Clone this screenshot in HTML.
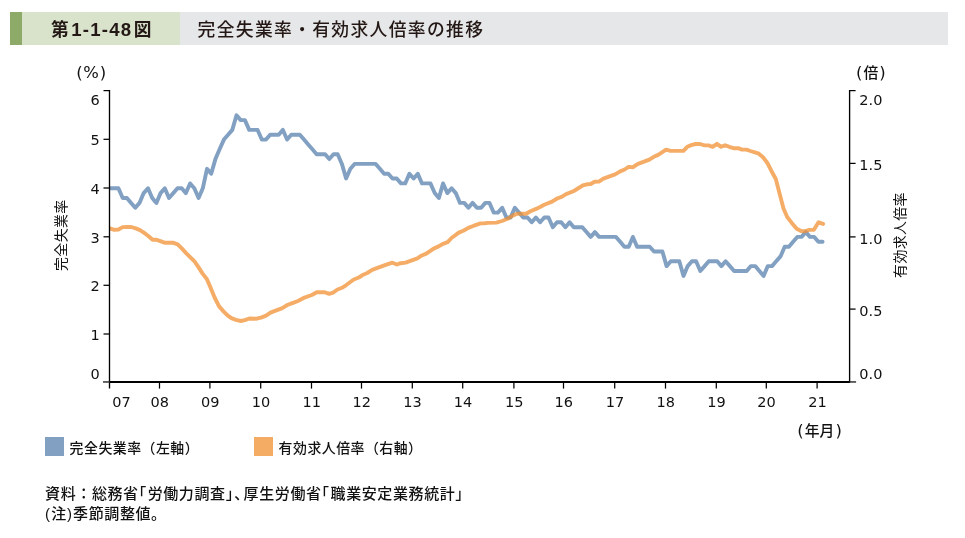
<!DOCTYPE html>
<html lang="ja">
<head>
<meta charset="utf-8">
<title>第1-1-48図 完全失業率・有効求人倍率の推移</title>
<style>
html,body{margin:0;padding:0;background:#fff;}
body{width:965px;height:538px;position:relative;overflow:hidden;color:#231815;
  font-family:"Liberation Sans","Noto Sans CJK JP",sans-serif;}
.hd{position:absolute;top:12px;height:33px;}
.hd1{left:10px;width:12px;background:#8daa68;}
.hd2{left:22px;width:158px;background:#d9e2cb;}
.hd3{left:180px;width:768px;background:#e6e7e8;}
.fig{position:absolute;left:51px;top:13px;height:33px;line-height:33px;white-space:nowrap;
  font-weight:700;font-size:17.7px;}
.fig .n{font-family:"Liberation Sans",sans-serif;font-size:18.6px;letter-spacing:1.2px;margin:0 1.6px 0 2.6px;position:relative;top:-0.4px;}
.ttl{position:absolute;left:197.6px;top:13.7px;height:33px;line-height:33px;white-space:nowrap;
  font-weight:500;font-size:17.8px;letter-spacing:1.33px;}
svg{position:absolute;left:0;top:0;}
.ax path{fill:none;stroke:#000;stroke-width:1.25;}
.ax path.ya{stroke:#000;stroke-width:1.35;}
.ax path.xa{stroke:#000;stroke-width:2;}
.ax path.g{stroke:#333;stroke-width:1.5;}
.num text{font-family:"DejaVu Sans","Liberation Sans",sans-serif;font-size:14.5px;fill:#111;}
.jp{font-family:"DejaVu Sans","Noto Sans CJK JP",sans-serif;font-size:14.8px;fill:#111;}
.jp .k{font-weight:500;}
.pp{font-size:16.5px;}
.vt{font-family:"Liberation Sans","Noto Sans CJK JP",sans-serif;font-size:13.9px;letter-spacing:0.4px;font-weight:400;fill:#111;}
.lg{position:absolute;top:437px;width:19px;height:19px;}
.lt{position:absolute;top:437.6px;height:21px;line-height:21px;font-size:13.9px;letter-spacing:0.5px;font-weight:500;white-space:nowrap;color:#111;}
.ft{position:absolute;left:45.1px;font-size:15px;letter-spacing:0.6px;font-weight:500;line-height:20px;white-space:nowrap;color:#111;}
.ft i{font-style:normal;letter-spacing:1.45px;}
.ft b{font-weight:500;letter-spacing:1.2px;}
</style>
</head>
<body>
<div class="hd hd1"></div><div class="hd hd2"></div><div class="hd hd3"></div>
<div class="fig">第<span class="n">1-1-48</span>図</div>
<div class="ttl">完全失業率・有効求人倍率の推移</div>
<svg width="965" height="538" viewBox="0 0 965 538">
<clipPath id="cp"><rect x="109.5" y="80" width="760" height="310"/></clipPath>
<g clip-path="url(#cp)">
<path d="M110.0,188.3 L114.2,188.3 L118.4,188.3 L122.7,198.0 L126.9,198.0 L131.1,202.9 L135.3,207.7 L139.5,202.9 L143.7,193.1 L148.0,188.3 L152.2,198.0 L156.4,202.9 L160.6,193.1 L164.8,188.3 L169.0,198.0 L173.3,193.1 L177.5,188.3 L181.7,188.3 L185.9,193.1 L190.1,183.4 L194.3,188.3 L198.6,198.0 L202.8,188.3 L207.0,168.8 L211.2,173.7 L215.4,159.1 L219.6,149.3 L223.9,139.6 L228.1,134.7 L232.3,129.9 L236.5,115.3 L240.7,120.1 L244.9,120.1 L249.2,129.9 L253.4,129.9 L257.6,129.9 L261.8,139.6 L266.0,139.6 L270.2,134.7 L274.5,134.7 L278.7,134.7 L282.9,129.9 L287.1,139.6 L291.3,134.7 L295.5,134.7 L299.8,134.7 L304.0,139.6 L308.2,144.5 L312.4,149.3 L316.6,154.2 L320.8,154.2 L325.1,154.2 L329.3,159.1 L333.5,154.2 L337.7,154.2 L341.9,163.9 L346.1,178.5 L350.4,168.8 L354.6,163.9 L358.8,163.9 L363.0,163.9 L367.2,163.9 L371.4,163.9 L375.7,163.9 L379.9,168.8 L384.1,173.7 L388.3,173.7 L392.5,178.5 L396.7,178.5 L401.0,183.4 L405.2,183.4 L409.4,173.7 L413.6,178.5 L417.8,173.7 L422.0,183.4 L426.3,183.4 L430.5,183.4 L434.7,193.1 L438.9,198.0 L443.1,183.4 L447.3,193.1 L451.6,188.3 L455.8,193.1 L460.0,202.9 L464.2,202.9 L468.4,207.7 L472.6,202.9 L476.9,207.7 L481.1,207.7 L485.3,202.9 L489.5,202.9 L493.7,212.6 L497.9,212.6 L502.2,207.7 L506.4,217.5 L510.6,217.5 L514.8,207.7 L519.0,212.6 L523.2,217.5 L527.5,217.5 L531.7,222.3 L535.9,217.5 L540.1,222.3 L544.3,217.5 L548.5,217.5 L552.8,227.2 L557.0,222.3 L561.2,222.3 L565.4,227.2 L569.6,222.3 L573.8,227.2 L578.1,227.2 L582.3,227.2 L586.5,232.1 L590.7,236.9 L594.9,232.1 L599.1,236.9 L603.4,236.9 L607.6,236.9 L611.8,236.9 L616.0,236.9 L620.2,241.8 L624.4,246.7 L628.7,246.7 L632.9,236.9 L637.1,246.7 L641.3,246.7 L645.5,246.7 L649.7,246.7 L654.0,251.5 L658.2,251.5 L662.4,251.5 L666.6,266.1 L670.8,261.3 L675.0,261.3 L679.3,261.3 L683.5,275.9 L687.7,266.1 L691.9,261.3 L696.1,261.3 L700.3,271.0 L704.6,266.1 L708.8,261.3 L713.0,261.3 L717.2,261.3 L721.4,266.1 L725.6,261.3 L729.9,266.1 L734.1,271.0 L738.3,271.0 L742.5,271.0 L746.7,271.0 L750.9,266.1 L755.2,266.1 L759.4,271.0 L763.6,275.9 L767.8,266.1 L772.0,266.1 L776.2,261.3 L780.5,256.4 L784.7,246.7 L788.9,246.7 L793.1,241.8 L797.3,236.9 L801.5,236.9 L805.8,232.1 L810.0,236.9 L814.2,236.9 L818.4,241.8 L822.6,241.8" fill="none" stroke="#81a0c2" stroke-width="3.9" stroke-linejoin="round" stroke-linecap="round"/>
<path d="M110.0,228.4 L114.2,229.9 L118.4,229.5 L122.7,227.1 L126.8,227.0 L131.3,227.0 L135.8,228.4 L140.0,230.1 L144.2,232.9 L148.3,236.0 L152.6,239.8 L156.7,239.8 L161.0,241.3 L165.1,242.8 L169.4,242.8 L173.5,242.8 L177.7,244.3 L182.0,248.6 L186.1,253.1 L190.4,257.3 L194.5,261.4 L198.8,267.6 L202.6,273.6 L206.8,279.0 L210.7,287.9 L214.6,297.5 L219.1,306.4 L223.5,311.4 L227.5,315.4 L231.4,318.2 L235.9,319.8 L240.9,321.0 L244.8,320.1 L249.3,318.5 L256.6,318.7 L261.0,317.6 L266.1,315.6 L270.5,312.6 L275.6,310.6 L282.3,308.1 L287.3,305.0 L292.4,303.1 L298.0,301.0 L304.5,297.6 L311.8,295.0 L316.8,292.2 L324.7,292.2 L329.1,293.9 L333.1,292.6 L337.5,289.5 L342.0,287.8 L345.9,285.3 L353.8,279.5 L358.8,277.5 L363.3,274.7 L367.2,273.0 L372.2,269.8 L379.5,267.2 L387.9,264.2 L392.4,262.7 L396.9,264.5 L400.6,263.2 L405.6,262.6 L411.8,260.4 L417.4,258.3 L421.3,255.7 L426.3,253.6 L433.6,248.6 L438.6,246.4 L443.1,243.8 L447.6,242.2 L451.5,238.0 L458.8,232.6 L463.8,230.5 L468.3,227.9 L473.9,225.7 L480.6,223.4 L484.5,223.2 L488.0,222.9 L496.4,222.6 L502.0,221.0 L507.6,218.8 L513.2,215.4 L517.1,213.7 L526.0,213.7 L530.5,211.2 L536.1,208.9 L540.5,206.8 L544.2,204.8 L552.1,201.6 L557.1,198.5 L561.6,196.9 L566.1,194.1 L573.3,191.3 L577.8,188.5 L582.9,185.4 L586.8,184.3 L590.7,184.0 L594.6,181.8 L598.9,181.6 L603.4,178.7 L615.1,174.4 L620.2,171.4 L624.7,169.5 L628.6,166.9 L633.1,167.2 L637.5,164.1 L649.3,159.6 L653.8,156.8 L658.2,154.9 L666.1,149.6 L670.5,150.9 L683.4,150.9 L687.3,146.8 L691.2,145.1 L695.5,144.0 L700.1,144.0 L704.5,145.4 L708.5,145.4 L712.7,146.8 L716.9,143.8 L721.1,146.8 L725.2,145.2 L729.2,146.8 L733.6,148.2 L738.1,148.2 L742.0,149.6 L746.5,149.6 L750.4,151.0 L754.9,152.4 L758.8,153.7 L763.0,157.2 L767.4,163.0 L771.3,170.7 L775.8,179.0 L779.7,193.9 L783.5,208.5 L787.2,217.0 L791.8,222.9 L796.7,228.8 L801.0,231.0 L805.3,231.2 L809.3,229.9 L813.9,229.8 L818.5,222.3 L823.1,223.9" fill="none" stroke="#f09033" stroke-opacity="0.75" stroke-width="3.9" stroke-linejoin="round" stroke-linecap="round"/>
</g>
<g class="ax">
<path class="ya" d="M109.5,89.94999999999999 V388.59999999999997" />
<path class="ya" d="M849.6,89.94999999999999 V381.9" />
<path class="xa" d="M109.5,381.9 H850.2" />
<path d="M103.5,90.6 H109.5" />
<path class="g" d="M103.0,381.95 H109.5" />
<path d="M849.6,90.6 H855.6" />
<path class="g" d="M849.6,381.95 H856.1" />
<path d="M103.5,334.00 H109.5" />
<path d="M103.5,285.30 H109.5" />
<path d="M103.5,236.80 H109.5" />
<path d="M103.5,188.00 H109.5" />
<path d="M103.5,139.30 H109.5" />
<path d="M849.6,309.10 H855.6" />
<path d="M849.6,236.90 H855.6" />
<path d="M849.6,163.40 H855.6" />
<path d="M159.50,381.9 V388.59999999999997" />
<path d="M209.90,381.9 V388.59999999999997" />
<path d="M260.70,381.9 V388.59999999999997" />
<path d="M311.50,381.9 V388.59999999999997" />
<path d="M361.50,381.9 V388.59999999999997" />
<path d="M412.30,381.9 V388.59999999999997" />
<path d="M462.70,381.9 V388.59999999999997" />
<path d="M513.90,381.9 V388.59999999999997" />
<path d="M563.50,381.9 V388.59999999999997" />
<path d="M614.70,381.9 V388.59999999999997" />
<path d="M665.50,381.9 V388.59999999999997" />
<path d="M716.30,381.9 V388.59999999999997" />
<path d="M766.30,381.9 V388.59999999999997" />
<path d="M817.10,381.9 V388.59999999999997" />
</g>
<g class="num">
<text x="99.8" y="105.4" text-anchor="end">6</text>
<text x="99.8" y="145.4" text-anchor="end">5</text>
<text x="99.8" y="194.1" text-anchor="end">4</text>
<text x="99.8" y="242.8" text-anchor="end">3</text>
<text x="99.8" y="291.4" text-anchor="end">2</text>
<text x="99.8" y="340.1" text-anchor="end">1</text>
<text x="99.8" y="378.8" text-anchor="end">0</text>
<text x="859.3" y="105.4">2.0</text>
<text x="859.3" y="170.3">1.5</text>
<text x="859.3" y="244.3">1.0</text>
<text x="859.3" y="316.3">0.5</text>
<text x="859.3" y="378.8">0.0</text>
<text x="121.6" y="406.6" text-anchor="middle">07</text>
<text x="159.8" y="406.6" text-anchor="middle">08</text>
<text x="210.2" y="406.6" text-anchor="middle">09</text>
<text x="261.0" y="406.6" text-anchor="middle">10</text>
<text x="311.8" y="406.6" text-anchor="middle">11</text>
<text x="361.8" y="406.6" text-anchor="middle">12</text>
<text x="412.6" y="406.6" text-anchor="middle">13</text>
<text x="463.0" y="406.6" text-anchor="middle">14</text>
<text x="514.2" y="406.6" text-anchor="middle">15</text>
<text x="563.8" y="406.6" text-anchor="middle">16</text>
<text x="615.0" y="406.6" text-anchor="middle">17</text>
<text x="665.8" y="406.6" text-anchor="middle">18</text>
<text x="716.6" y="406.6" text-anchor="middle">19</text>
<text x="766.6" y="406.6" text-anchor="middle">20</text>
<text x="817.4" y="406.6" text-anchor="middle">21</text>
</g>
<text class="jp pp" x="91.3" y="78.3" text-anchor="middle">(<tspan font-size="16.4" dx="0.6">%</tspan><tspan dx="0.9">)</tspan></text>
<text class="jp" x="870.8" y="78" text-anchor="middle"><tspan class="pp">(</tspan><tspan class="k" dx="1">倍</tspan><tspan class="pp" dx="1">)</tspan></text>
<text class="jp" x="819.6" y="435.5" text-anchor="middle"><tspan class="pp">(</tspan><tspan class="k" dx="1">年月</tspan><tspan class="pp" dx="1">)</tspan></text>
<text class="vt" transform="translate(65.7,235.2) rotate(-90)" text-anchor="middle">完全失業率</text>
<text class="vt" transform="translate(904.5,235) rotate(-90)" text-anchor="middle">有効求人倍率</text>
</svg>
<div class="lg" style="left:45px;background:#81a0c2"></div>
<div class="lt" style="left:69.6px">完全失業率（左軸）</div>
<div class="lg" style="left:254px;background:#f4ac65"></div>
<div class="lt" style="left:278.6px">有効求人倍率（右軸）</div>
<div class="ft" style="top:483.6px">資料：総務省<i>｢</i>労働力調査<i>｣､</i>厚生労働省<i>｢</i>職業安定業務統計<i>｣</i></div>
<div class="ft" style="top:503.7px"><b>(</b>注<b>)</b>季節調整値。</div>
</body>
</html>
